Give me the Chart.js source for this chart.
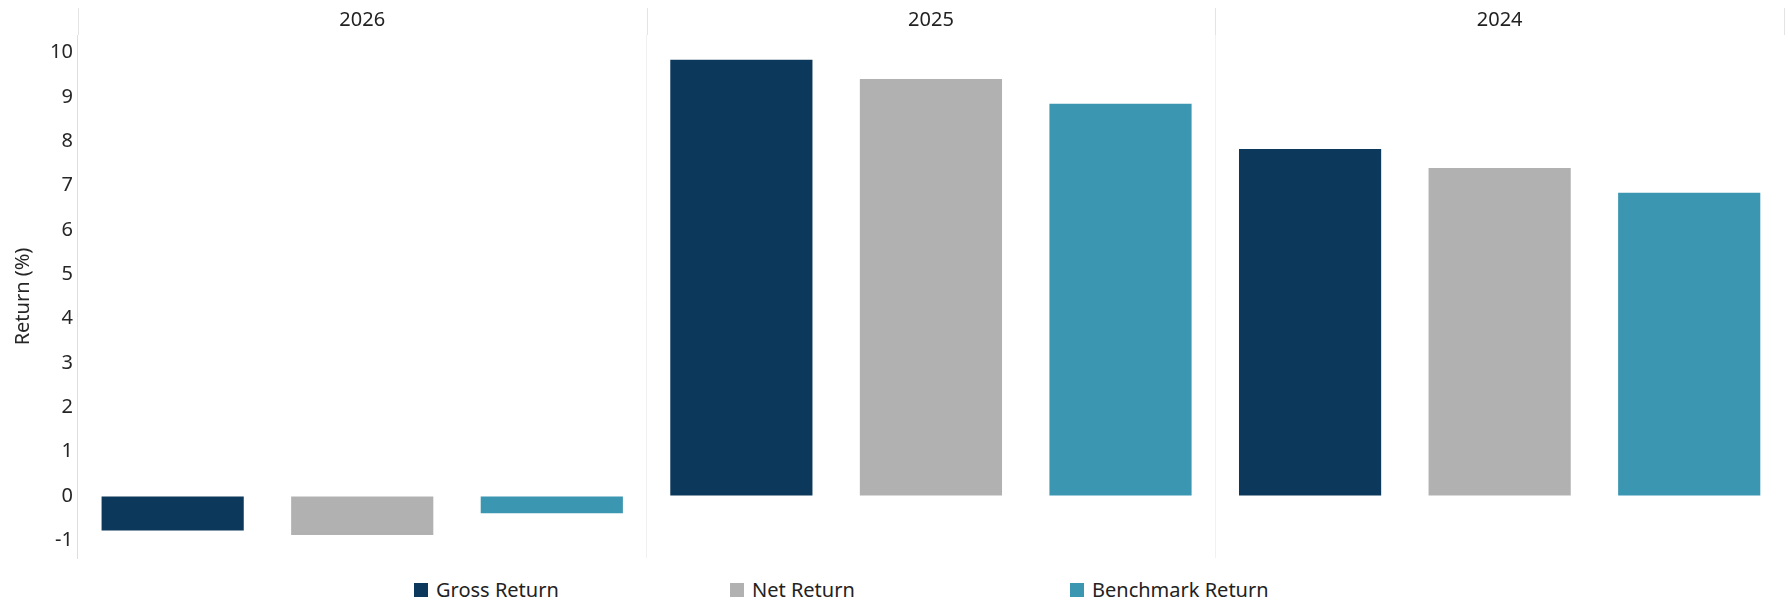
<!DOCTYPE html>
<html>
<head>
<meta charset="utf-8">
<script src="https://cdn.jsdelivr.net/npm/chart.js@4.4.1/dist/chart.umd.min.js"></script>
<style>
  html, body { margin: 0; background: #fff; }
  #wrap { position: relative; width: 1789px; height: 605px; font-family: 'Noto Sans', sans-serif; }
  #box { position: absolute; left: 0; top: 0; width: 1789px; height: 575px; }
  #legend { position: absolute; left: 414px; top: 576px; display: flex; }
  #legend .item { display: flex; align-items: center; font-size: 20px; color: #222; line-height: 28px; }
  #legend .sw { width: 14px; height: 14px; margin-right: 8px; }
</style>
</head>
<body>
<div id="wrap">
  <div id="box"><canvas id="returns"></canvas></div>
  <div id="legend"></div>
</div>
<script>
// ---- data ----
const years = ['2026', '2025', '2024'];
const seriesNames = ['Gross Return', 'Net Return', 'Benchmark Return'];
const grossReturn = [-0.78, 9.84, 7.83];
const netReturn = [-0.88, 9.41, 7.40];
const benchmarkReturn = [-0.39, 8.85, 6.84];
const yTicks = [-1, 0, 1, 2, 3, 4, 5, 6, 7, 8, 9, 10];

const seriesValues = [grossReturn, netReturn, benchmarkReturn];
const seriesColors = ['#0c385b', '#b1b1b1', '#3b96b1'];

Chart.defaults.font.family = "'Noto Sans', sans-serif";
Chart.defaults.font.size = 20;
Chart.defaults.color = '#262626';

// one category slot per bar: year x series
const slots = years.flatMap(y => seriesNames.map(s => y + ' ' + s));

const datasets = seriesNames.map((name, k) => ({
  label: name,
  data: slots.map((_, i) => (i % 3 === k ? seriesValues[k][Math.floor(i / 3)] : null)),
  backgroundColor: seriesColors[k],
  categoryPercentage: 1,
  barPercentage: 0.75
}));

// year headers above each group of three bars, with short divider marks
const yearHeader = {
  id: 'yearHeader',
  afterDraw(chart) {
    const { ctx, chartArea, scales: { x } } = chart;
    const step = x.getPixelForValue(1) - x.getPixelForValue(0);
    ctx.save();
    ctx.strokeStyle = '#e4e4e4';
    ctx.lineWidth = 1;
    for (let j = 0; j <= years.length; j++) {
      const px = Math.round(x.getPixelForValue(j * 3) - step / 2) + 0.5;
      ctx.beginPath();
      ctx.moveTo(px, chartArea.top - 27);
      ctx.lineTo(px, chartArea.top);
      ctx.stroke();
    }
    ctx.fillStyle = '#222';
    ctx.font = "20px 'Noto Sans', sans-serif";
    ctx.textAlign = 'center';
    ctx.textBaseline = 'middle';
    years.forEach((yr, j) => {
      ctx.fillText(yr, x.getPixelForValue(j * 3 + 1), chartArea.top - 15);
    });
    ctx.restore();
  }
};

const ctx = document.getElementById('returns').getContext('2d');
const chart = new Chart(ctx, {
  type: 'bar',
  data: { labels: slots, datasets },
  options: {
    responsive: true, maintainAspectRatio: false,
    animation: false,
    skipNull: true,
    layout: { padding: { left: 11, right: 5, top: 35, bottom: 4 } },
    plugins: { legend: { display: false }, tooltip: { enabled: false } },
    scales: {
      x: {
        ticks: { display: false },
        border: { display: false },
        grid: {
          offset: true,
          drawTicks: false,
          color: c => (c.index > 0 && c.index % 3 === 0 ? '#f1f1f1' : 'transparent')
        }
      },
      y: {
        min: -1.4, max: 10.4,
        afterBuildTicks: axis => { axis.ticks = yTicks.map(v => ({ value: v })); },
        grid: { color: 'transparent', drawTicks: false },
        border: { display: true, color: '#dedede', width: 1 },
        ticks: { padding: 5, color: '#262626' },
        title: { display: true, text: 'Return (%)', color: '#262626', padding: { top: 0, bottom: 10 } }
      }
    }
  },
  plugins: [yearHeader]
});

// html legend built from the chart's own legend items
const legendEl = document.getElementById('legend');
const colWidths = [316, 340, null];
chart.options.plugins.legend.labels.generateLabels(chart).forEach((item, i) => {
  const div = document.createElement('div');
  div.className = 'item';
  if (colWidths[i]) div.style.width = colWidths[i] + 'px';
  const sw = document.createElement('span');
  sw.className = 'sw';
  sw.style.background = item.fillStyle;
  const txt = document.createElement('span');
  txt.textContent = item.text;
  div.appendChild(sw);
  div.appendChild(txt);
  legendEl.appendChild(div);
});
</script>
</body>
</html>
